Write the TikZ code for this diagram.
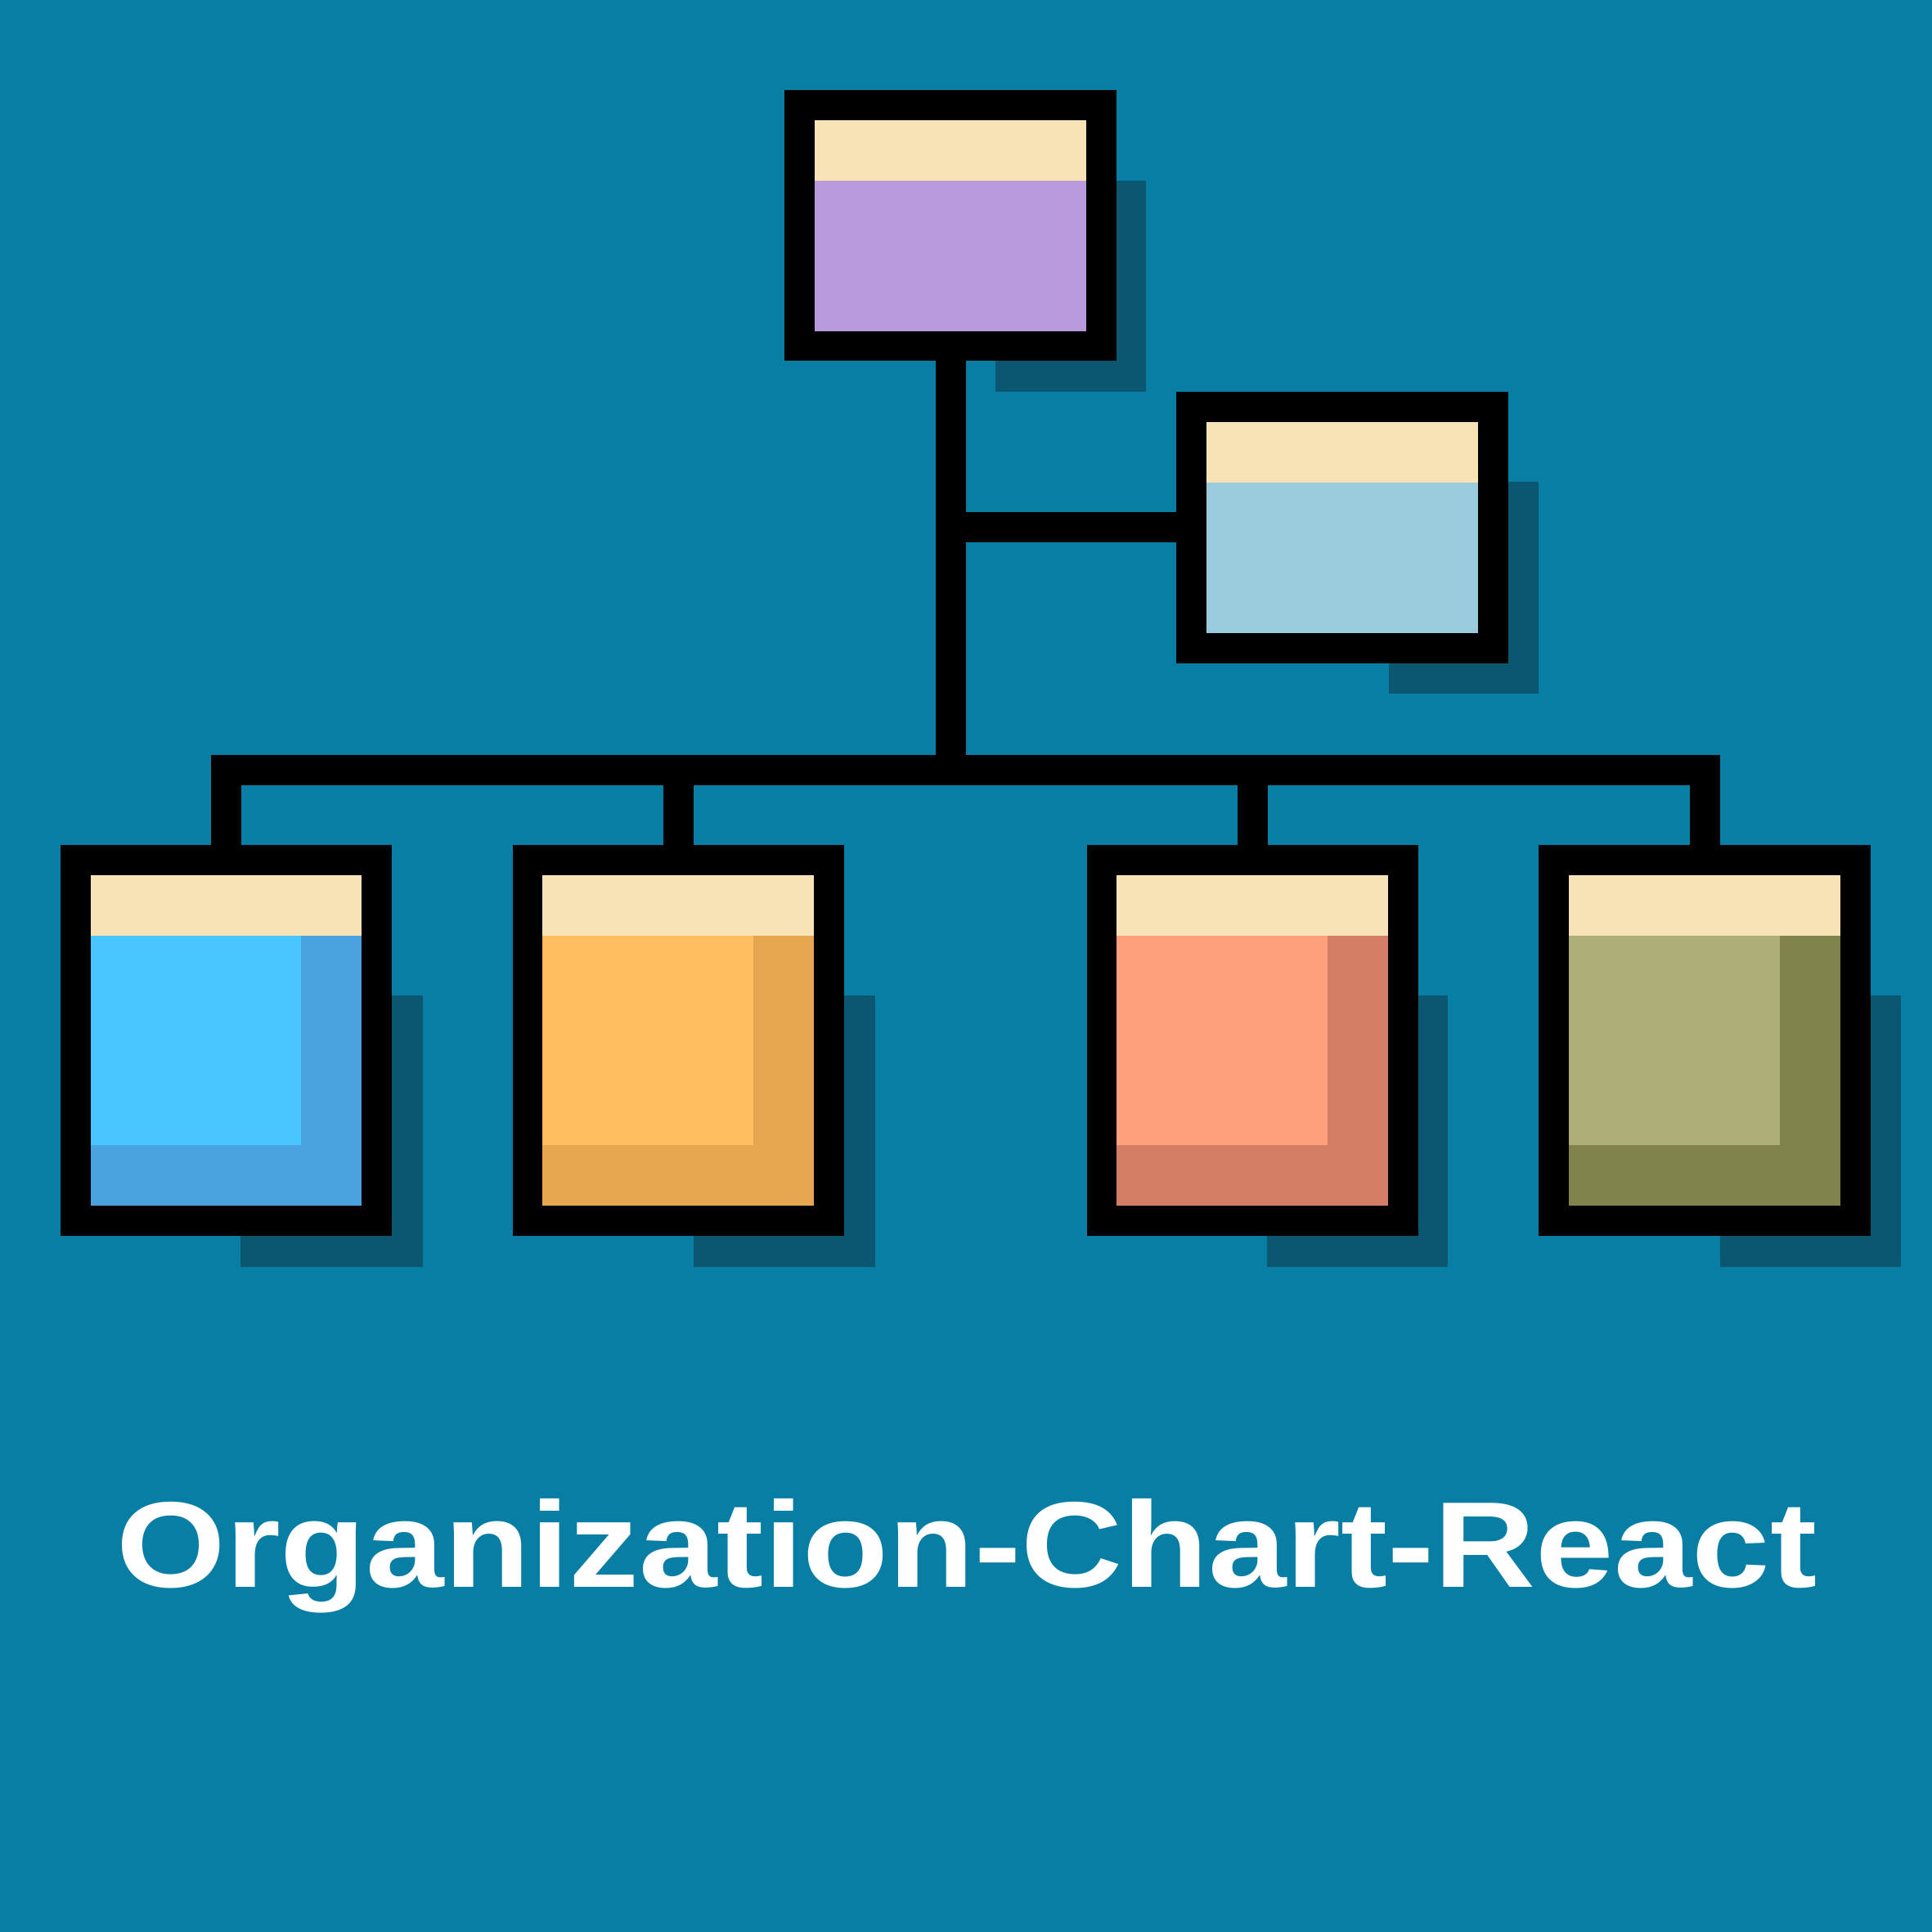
\documentclass[tikz,border=0pt]{standalone}
\usepackage{fontspec}
\setmainfont{Liberation Sans}
\usetikzlibrary{calc}
\definecolor{bg}{HTML}{097EA5}
\definecolor{shade}{HTML}{0B5772}
\definecolor{cream}{HTML}{F7E3B5}
\definecolor{purp}{HTML}{B89ADC}
\definecolor{pale}{HTML}{9ACBDD}
\definecolor{skyA}{HTML}{4AC6FF}
\definecolor{skyB}{HTML}{4AA3DF}
\definecolor{orA}{HTML}{FFBF61}
\definecolor{orB}{HTML}{E6A550}
\definecolor{saA}{HTML}{FFA07D}
\definecolor{saB}{HTML}{D47F63}
\definecolor{olA}{HTML}{ADAF77}
\definecolor{olB}{HTML}{80834B}
\tikzset{
  orgbox/.style={rectangle, fill=black, inner sep=0pt, outer sep=0pt, minimum width=2.69cm, minimum height=#1},
  conn/.style={draw=black, line width=0.245cm, line join=miter},
  shadowrect/.style={fill=shade},
}
\begin{document}
\begin{tikzpicture}[x=0.01cm, y=-0.01cm]
\fill[bg] (0,0) rectangle (1568,1568);
\useasboundingbox (0,0) rectangle (1568,1568);
% shadows
\fill[shadowrect] (808,147) rectangle (930,318);
\fill[shadowrect] (1127,391) rectangle (1249,563);
\fill[shadowrect] (195,808) rectangle (343,1028);
\fill[shadowrect] (563,808) rectangle (710,1028);
\fill[shadowrect] (1028,808) rectangle (1175,1028);
\fill[shadowrect] (1396,808) rectangle (1543,1028);
% boxes
\node[orgbox=2.2cm] (top) at (771.5,183) {};
\node[orgbox=2.2cm] (mid) at (1089.5,428) {};
\node[orgbox=3.17cm] (b1) at (183.5,844.5) {};
\node[orgbox=3.17cm] (b2) at (550.5,844.5) {};
\node[orgbox=3.17cm] (b3) at (1016.5,844.5) {};
\node[orgbox=3.17cm] (b4) at (1383.5,844.5) {};
% top-level fills
\foreach \n/\c in {top/purp, mid/pale}{
  \fill[\c] ($(\n.north west)+(24.5,24.5)$) rectangle ($(\n.south east)+(-24.5,-24.5)$);
  \fill[cream] ($(\n.north west)+(24.5,24.5)$) rectangle ($(\n.north east)+(-24.5,73.5)$);
}
\foreach \n/\ca/\cb in {b1/skyA/skyB, b2/orA/orB, b3/saA/saB, b4/olA/olB}{
  \fill[\cb] ($(\n.north west)+(24.5,24.5)$) rectangle ($(\n.south east)+(-24.5,-24.5)$);
  \fill[\ca] ($(\n.north west)+(24.5,73.5)$) rectangle ($(\n.south east)+(-73.5,-73.5)$);
  \fill[cream] ($(\n.north west)+(24.5,24.5)$) rectangle ($(\n.north east)+(-24.5,73.5)$);
}
% connectors
\coordinate (hub) at (771.5,625);
\coordinate (barL) at (183.5,625);
\coordinate (barR) at (1383.5,625);
\coordinate (m2) at (550.5,625);
\coordinate (m3) at (1016.5,625);
\draw[conn] (top.south) -- (hub);
\draw[conn] (771.5,428) -- (mid.west);
\draw[conn] (b1.north) -- (barL) -- (barR) -- (b4.north);
\draw[conn] (m2) -- (b2.north);
\draw[conn] (m3) -- (b3.north);
% title
\node[anchor=base west, inner sep=0pt, text=white, font=\fontsize{28.17pt}{30pt}\selectfont\bfseries] (title) at (94,1288) {\scalebox{1.15}[1]{Organization-Chart-React}};
\end{tikzpicture}
\end{document}
